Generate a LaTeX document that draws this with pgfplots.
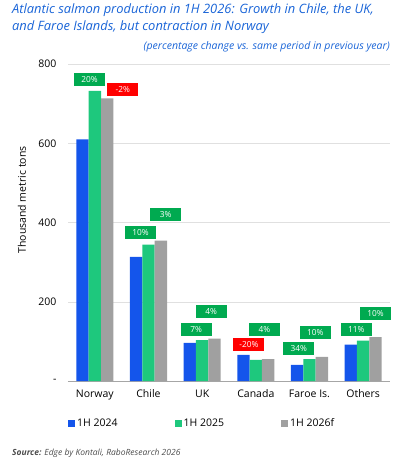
\documentclass[border=0pt]{standalone}
\usepackage{fontspec}
\setmainfont{Open Sans}
\usepackage{pgfplots}
\pgfplotsset{compat=1.18}
\definecolor{cblue}{RGB}{20,85,235}
\definecolor{cgreen}{RGB}{30,200,125}
\definecolor{cgray}{RGB}{160,160,160}
\definecolor{lgreen}{RGB}{0,170,80}
\definecolor{lred}{RGB}{255,0,0}
\definecolor{tblue}{RGB}{25,100,215}
\begin{document}
\begin{tikzpicture}[x=1pt,y=1pt]
\path[use as bounding box] (-68,-80) rectangle (334,381);
\node[anchor=north west, align=left, text=tblue, font=\fontsize{12.9}{17}\selectfont\itshape, inner sep=0pt] at (-56,377)
 {Atlantic salmon production in 1H 2026: Growth in Chile, the UK,\\and Faroe Islands, but contraction in Norway};
\node[anchor=east, text=tblue, font=\fontsize{10.5}{12}\selectfont\itshape, inner sep=0pt] at (322,334)
 {(percentage change vs. same period in previous year)};
\node[rotate=90, font=\fontsize{10.5}{12}\selectfont, inner sep=0pt] at (-46,181) {Thousand metric tons};
\node[anchor=base west, font=\fontsize{8.5}{10}\selectfont\itshape, text=black!70, inner sep=0pt] at (-56,-74)
 {\textbf{Source:} Edge by Kontali, RaboResearch 2026};
\begin{axis}[at={(0,0)}, anchor=south west, scale only axis, width=322pt, height=317pt,
 xmin=-0.5, xmax=5.5, ymin=0, ymax=800,
 axis lines*=left,
 y axis line style={draw=none},
 x axis line style={draw=black!35},
 major tick length=0pt,
 ytick={0,200,400,600,800}, yticklabels={-,200,400,600,800},
 xtick={0,1,2,3,4,5}, xticklabels={Norway,Chile,UK,Canada,Faroe Is.,Others},
 ymajorgrids, grid style={black!12},
 tick label style={font=\fontsize{10.5}{12}\selectfont},
 yticklabel style={xshift=-8pt},
 xticklabel style={yshift=-5pt},
 legend columns=3,
 legend style={at={(axis description cs:0,-0.1325)}, anchor=west, draw=none, font=\fontsize{10.5}{12}\selectfont,
   /tikz/every even column/.append style={column sep=55pt}, inner sep=0pt},
 legend cell align=left,
]
\addplot[ybar, bar width=0.23, bar shift=-0.23, fill=cblue, draw=none,
 legend image code/.code={\fill[cblue] (0pt,-3.5pt) rectangle (7pt,3.5pt);}]
 coordinates {(0,610) (1,313) (2,96) (3,66) (4,41) (5,92)};
\addlegendentry{1H 2024}
\addplot[ybar, bar width=0.23, bar shift=0, fill=cgreen, draw=none,
 legend image code/.code={\fill[cgreen] (0pt,-3.5pt) rectangle (7pt,3.5pt);}]
 coordinates {(0,732) (1,344) (2,103) (3,53) (4,55) (5,102)};
\addlegendentry{1H 2025}
\addplot[ybar, bar width=0.23, bar shift=0.23, fill=cgray, draw=none,
 legend image code/.code={\fill[cgray] (0pt,-3.5pt) rectangle (7pt,3.5pt);}]
 coordinates {(0,713) (1,354) (2,107) (3,55) (4,61) (5,111)};
\addlegendentry{1H 2026f}
\addplot[forget plot, draw=none, mark=none, nodes near coords, point meta=explicit symbolic,
 every node near coord/.append style={anchor=center, fill=lgreen, text=white, font=\fontsize{8.3}{9}\selectfont,
  minimum width=31pt, minimum height=13pt, inner sep=0pt}]
 coordinates {(-0.1,760)[20\%] (0.85,375)[10\%] (1.32,419)[3\%] (1.89,130)[7\%] (2.17,175)[4\%]
  (3.16,130)[4\%] (3.8,81)[34\%] (4.11,123)[10\%] (4.87,130)[11\%] (5.23,170)[10\%]};
\addplot[forget plot, draw=none, mark=none, nodes near coords, point meta=explicit symbolic,
 every node near coord/.append style={anchor=center, fill=lred, text=white, font=\fontsize{8.3}{9}\selectfont,
  minimum width=31pt, minimum height=13pt, inner sep=0pt}]
 coordinates {(0.52,735)[-2\%] (2.87,93)[-20\%]};
\end{axis}
\end{tikzpicture}
\end{document}
